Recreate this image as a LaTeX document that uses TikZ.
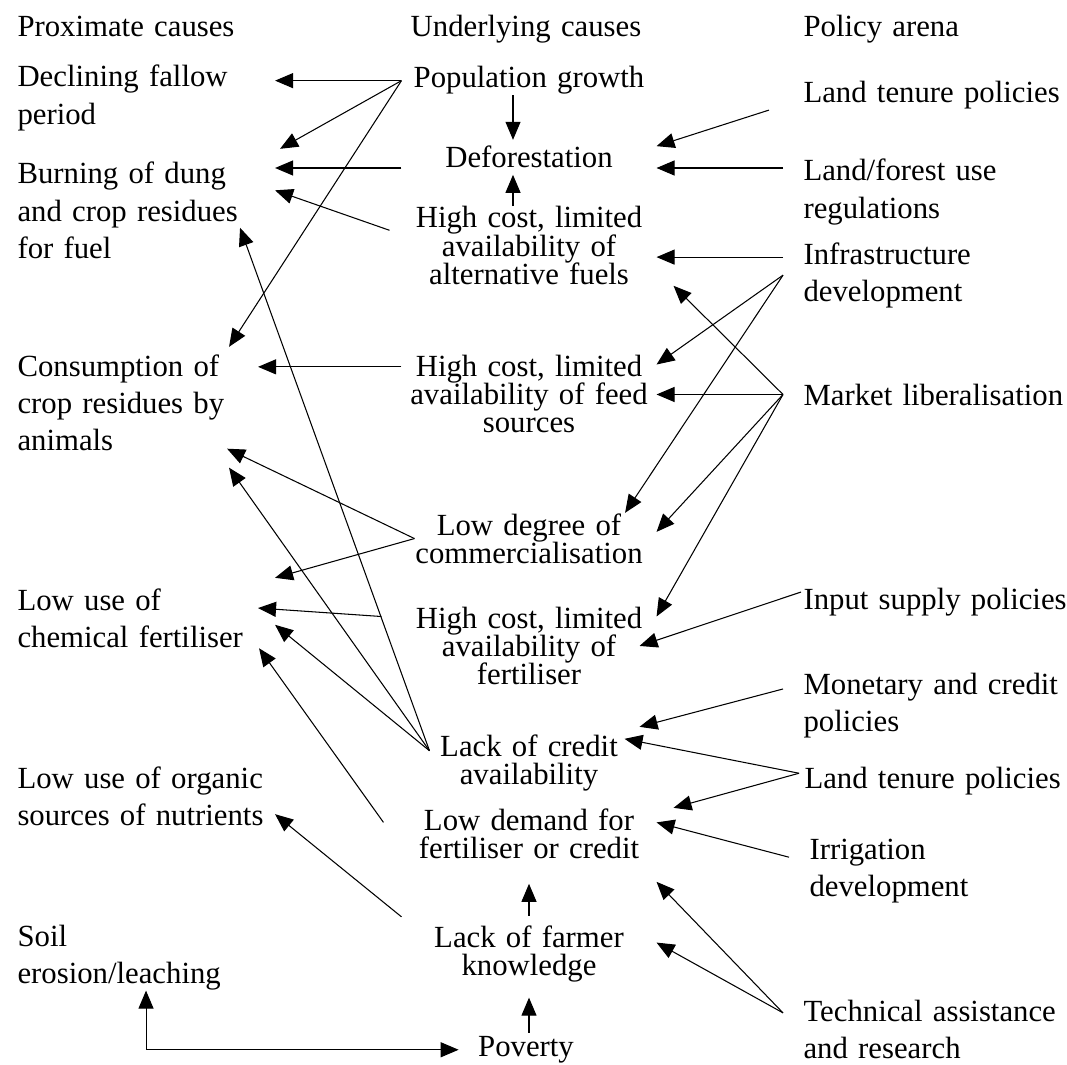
\documentclass[tikz,border=0pt]{standalone}
\usepackage{fontspec}
\setmainfont{Liberation Serif}
\usetikzlibrary{arrows.meta}

\begin{document}
\begin{tikzpicture}[>={Triangle[length=0.36cm,width=0.3cm]}, line width=0.6pt,
                    font=\fontsize{17.5}{21.3}\selectfont,
                    cause/.style={anchor=base west, text width=5.14cm, inner sep=0pt, align=left},
                    under/.style={anchor=base, text width=5.08cm, inner sep=0pt, align=center,
                                  font=\fontsize{17.5}{16.2}\selectfont},
                    policy/.style={anchor=base west, text width=5.4cm, inner xsep=0.4cm, inner ysep=0pt, align=left}]
                    \useasboundingbox (0,0) rectangle (21.34,-21.28);

                    \node[cause] (proximate) at (0.34,-0.74) {Proximate causes};
                    \node[cause] (fallow) at (0.34,-1.74) {Declining fallow\\period};
                    \node[cause] (burning) at (0.34,-3.68) {Burning of dung\\and crop residues\\for fuel};
                    \node[cause] (residues) at (0.34,-7.52) {Consumption of\\crop residues by\\animals};
                    \node[cause] (chemfert) at (0.34,-12.2) {Low use of\\chemical fertiliser};
                    \node[cause] (organic) at (0.34,-15.76) {Low use of organic\\sources of nutrients};
                    \node[cause] (erosion) at (0.34,-18.92) {Soil\\erosion/leaching};

                    \node[under] (underlying) at (10.52,-0.74) {Underlying causes};
                    \node[under] (popgrowth) at (10.58,-1.76) {Population growth};
                    \node[under, inner ysep=0.12cm] (deforest) at (10.58,-3.36) {Deforestation};
                    \node[under] (altfuel) at (10.58,-4.56) {High cost, limited\\availability of\\alternative fuels};
                    \node[under] (feed) at (10.58,-7.52) {High cost, limited\\availability of feed\\sources};
                    \node[under] (commerce) at (10.58,-10.7) {Low degree of\\commercialisation};
                    \node[under] (fertcost) at (10.58,-12.56) {High cost, limited\\availability of\\fertiliser};
                    \node[under] (credit) at (10.58,-15.12) {Lack of credit\\availability};
                    \node[under] (demand) at (10.58,-16.6) {Low demand for\\fertiliser or credit};
                    \node[under] (knowledge) at (10.58,-18.94) {Lack of farmer\\knowledge};
                    \node[anchor=base, inner xsep=0.38cm, inner ysep=0pt] (poverty) at (10.52,-21.13) {Poverty};

                    \node[policy] (arena) at (15.66,-0.74) {Policy arena};
                    \node[policy] (tenure) at (15.66,-2.06) {Land tenure policies};
                    \node[policy] (forestuse) at (15.66,-3.62) {Land/forest use\\regulations};
                    \node[policy] (infra) at (15.66,-5.28) {Infrastructure\\development};
                    \node[policy] (market) at (15.66,-8.1) {Market liberalisation};
                    \node[policy, inner xsep=0.04cm] (inputs) at (16.02,-12.18) {Input supply policies};
                    \node[policy] (monetary) at (15.66,-13.88) {Monetary and credit\\policies};
                    \node[policy, inner xsep=0.1cm] (tenuretwo) at (15.98,-15.76) {Land tenure policies};
                    \node[policy] (irrigation) at (15.78,-17.18) {Irrigation\\development};
                    \node[policy] (techassist) at (15.66,-20.42) {Technical assistance\\and research};

                    \coordinate (commerce-out) at ([xshift=0.26cm]commerce.west);
                    \coordinate (credit-out) at ([shift={(0.56,0.24)}]credit.west);

                    \draw[->] (popgrowth.west) -- (popgrowth.west -| fallow.east);
                    \draw[->] (popgrowth.west) -- ([shift={(0.1,0.26)}]burning.north east);
                    \draw[->] (popgrowth.west) -- ([shift={(-0.92,0.14)}]residues.north east);
                    \draw[->] (deforest.base west) -- (deforest.base west -| burning.east);
                    \draw[->] ([xshift=-0.24cm]altfuel.173) -- (burning.9);
                    \draw[->, shorten >=-0.34cm] (feed.168) -- (feed.168 -| residues.east);

                    \draw[->] (credit-out) -- ([shift={(-0.7,-0.34)}]burning.east);
                    \draw[->] (credit-out) -- ([shift={(-0.92,-0.32)}]residues.south east);
                    \draw[->] (credit-out) -- (chemfert.357);
                    \draw[->] (commerce-out) -- ([shift={(-0.96,0.06)}]residues.south east);
                    \draw[->] (commerce-out) -- ([yshift=0.2cm]chemfert.north east);
                    \draw[->] ([xshift=-0.4cm]fertcost.167) -- ([shift={(-0.34,0.2)}]chemfert.east);
                    \draw[->] ([xshift=-0.36cm]demand.175) -- ([xshift=-0.32cm]chemfert.south east);
                    \draw[->] ([yshift=0.16cm]knowledge.north west) -- (organic.352);

                    \draw[->] ([xshift=-0.32cm]popgrowth.south) -- ([xshift=-0.32cm]deforest.north);
                    \draw[->] ([xshift=-0.32cm]altfuel.north) -- ([xshift=-0.32cm]deforest.south);
                    \draw[->, shorten <=0.18cm, shorten >=0.49cm] (knowledge.north) -- (demand.south);
                    \draw[->, shorten <=0.06cm, shorten >=0.3cm] (poverty.north -| knowledge) -- (knowledge.south);
                    \draw[<->] (erosion.south) |- (poverty.west);

                    \draw[->] ([xshift=-0.28cm]tenure.south west) -- (deforest.5);
                    \draw[->] (forestuse.west |- deforest.base east) -- (deforest.base east);
                    \draw[->] (altfuel.355 -| infra.west) -- (altfuel.355);
                    \draw[->] (infra.west) -- (feed.13);
                    \draw[->] (infra.west) -- (commerce.15);
                    \draw[->] (market.west) -- ([xshift=0.34cm]altfuel.south east);
                    \draw[->] (market.west) -- (market.west -| feed.east);
                    \draw[->] (market.west) -- (commerce.3);
                    \draw[->] (market.west) -- (fertcost.13);
                    \draw[->] (inputs.176) -- ([xshift=-0.34cm]fertcost.east);
                    \draw[->] (monetary.174) -- ([shift={(-0.34,0.14)}]credit.north east);
                    \draw[->] (tenuretwo.177) -- ([shift={(-0.64,-0.1)}]credit.north east);
                    \draw[->] (tenuretwo.177) -- ([xshift=0.34cm]demand.north east);
                    \draw[->] (irrigation.175) -- (demand.5);
                    \draw[->] (techassist.174) -- ([yshift=-0.45cm]demand.south east);
                    \draw[->] (techassist.174) -- (knowledge.5);
                \end{tikzpicture}
\end{document}
